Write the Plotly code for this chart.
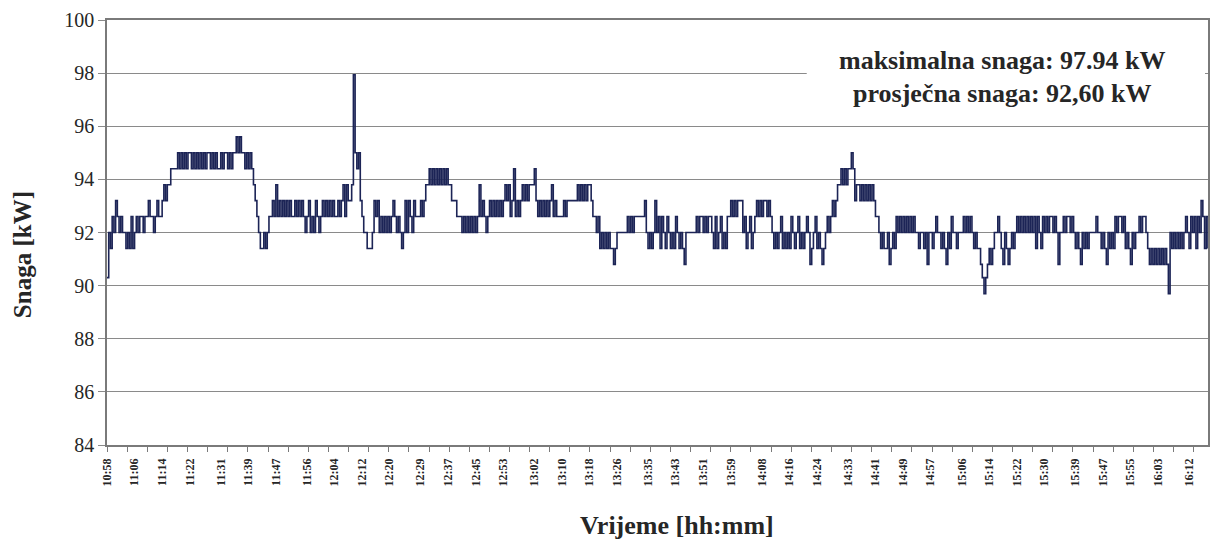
import numpy as np
import plotly.graph_objects as go

# Power readings [kW], one sample every 30 s starting at 10:58
power_1058_1148 = [
    90.3, 92.0, 91.4, 92.6, 92.0, 93.2, 92.6, 92.0, 92.6, 92.0, 92.0, 91.4, 92.0, 91.4, 92.6, 91.4, 92.0, 92.6, 92.0, 92.6,
    92.6, 92.0, 92.6, 92.6, 93.2, 92.6, 92.6, 92.0, 92.6, 93.2, 92.6, 92.6, 93.2, 93.8, 93.2, 93.8, 93.8, 94.4, 94.4, 94.4,
    94.4, 95.0, 94.4, 95.0, 94.4, 95.0, 94.4, 95.0, 95.0, 94.4, 95.0, 94.4, 95.0, 94.4, 95.0, 94.4, 95.0, 94.4, 95.0, 95.0,
    94.4, 95.0, 94.4, 95.0, 94.4, 94.4, 95.0, 94.4, 95.0, 95.0, 94.4, 95.0, 94.4, 95.0, 95.0, 95.6, 95.0, 95.6, 95.0, 95.0,
    94.4, 95.0, 94.4, 95.0, 94.4, 93.8, 93.2, 92.6, 92.0, 91.4, 91.4, 92.0, 91.4, 92.0, 92.6, 92.6, 93.2, 92.6, 93.8, 92.6,
]
power_1148_1238 = [
    93.2, 92.6, 93.2, 92.6, 93.2, 92.6, 93.2, 92.6, 92.6, 93.2, 92.6, 93.2, 92.6, 93.2, 92.6, 92.0, 92.6, 93.2, 92.0, 92.6,
    92.0, 93.2, 92.6, 92.0, 92.6, 93.2, 92.6, 93.2, 92.6, 93.2, 92.6, 93.2, 92.6, 92.6, 93.2, 92.6, 93.2, 93.8, 92.6, 93.8,
    93.2, 93.2, 93.8, 97.94, 95.0, 94.4, 95.0, 93.2, 92.6, 92.0, 92.0, 91.4, 91.4, 91.4, 92.0, 93.2, 92.6, 93.2, 92.0, 92.6,
    92.0, 92.6, 92.0, 92.6, 92.0, 92.6, 93.2, 92.6, 92.0, 92.6, 92.0, 91.4, 92.0, 93.2, 92.0, 93.2, 92.6, 92.0, 93.2, 92.6,
    92.6, 92.6, 93.2, 92.6, 93.2, 93.8, 93.8, 94.4, 93.8, 94.4, 93.8, 94.4, 93.8, 94.4, 93.8, 94.4, 93.8, 94.4, 93.8, 93.8,
]
power_1238_1328 = [
    93.2, 93.2, 93.2, 92.6, 92.6, 92.6, 92.0, 92.6, 92.0, 92.6, 92.0, 92.6, 92.0, 92.6, 92.0, 92.6, 93.8, 92.6, 93.2, 92.6,
    92.0, 92.6, 93.2, 92.6, 93.2, 92.6, 93.2, 92.6, 93.2, 92.6, 93.2, 93.8, 93.2, 93.8, 92.6, 93.2, 94.4, 92.6, 93.2, 92.6,
    93.2, 93.8, 93.2, 93.8, 93.2, 93.8, 93.8, 93.8, 94.4, 93.2, 92.6, 93.2, 92.6, 93.2, 92.6, 93.2, 92.6, 93.2, 93.8, 92.6,
    93.2, 92.6, 92.6, 92.6, 92.6, 93.2, 92.6, 93.2, 93.2, 93.2, 93.2, 93.2, 93.2, 93.8, 93.2, 93.8, 93.2, 93.8, 93.2, 93.8,
    93.8, 93.2, 92.6, 92.6, 92.0, 92.6, 91.4, 92.0, 91.4, 92.0, 91.4, 92.0, 91.4, 91.4, 90.8, 91.4, 92.0, 92.0, 92.0, 92.0,
]
power_1328_1418 = [
    92.0, 92.0, 92.6, 92.0, 92.6, 92.0, 92.6, 92.6, 92.6, 92.6, 92.6, 92.6, 93.2, 92.0, 91.4, 92.0, 91.4, 92.0, 93.2, 92.0,
    92.6, 91.4, 92.6, 92.0, 91.4, 92.6, 92.0, 91.4, 92.0, 91.4, 92.6, 92.0, 91.4, 92.0, 91.4, 90.8, 92.0, 92.0, 92.0, 92.0,
    92.0, 92.0, 92.6, 92.0, 92.6, 92.6, 92.0, 92.6, 92.0, 92.6, 92.6, 92.0, 91.4, 92.6, 91.4, 92.0, 92.6, 91.4, 92.0, 91.4,
    92.6, 92.6, 93.2, 92.6, 93.2, 92.6, 93.2, 93.2, 93.2, 92.0, 92.6, 91.4, 92.0, 92.6, 91.4, 92.0, 92.6, 93.2, 92.6, 93.2,
    92.6, 93.2, 93.2, 92.6, 93.2, 92.6, 92.0, 91.4, 92.0, 91.4, 92.0, 92.6, 91.4, 92.0, 91.4, 92.0, 91.4, 92.6, 92.0, 91.4,
]
power_1418_1508 = [
    92.0, 92.6, 91.4, 92.0, 91.4, 92.0, 92.6, 92.0, 90.8, 91.4, 92.0, 92.6, 91.4, 92.0, 91.4, 90.8, 91.4, 92.0, 92.6, 92.0,
    92.6, 93.2, 92.6, 93.2, 93.8, 93.8, 94.4, 93.8, 94.4, 93.8, 94.4, 94.4, 95.0, 94.4, 93.2, 93.8, 93.8, 93.2, 93.8, 93.2,
    93.8, 93.2, 93.8, 93.2, 93.8, 93.2, 92.6, 92.6, 92.0, 91.4, 92.0, 91.4, 91.4, 92.0, 90.8, 91.4, 92.0, 91.4, 92.6, 92.0,
    92.6, 92.0, 92.6, 92.0, 92.6, 92.0, 92.6, 92.0, 92.6, 92.0, 92.0, 91.4, 92.0, 92.0, 91.4, 92.0, 90.8, 92.0, 92.0, 91.4,
    92.0, 92.6, 92.0, 92.0, 91.4, 92.0, 91.4, 90.8, 92.0, 91.4, 92.6, 92.0, 92.0, 91.4, 92.0, 92.0, 92.0, 92.6, 92.0, 92.6,
]
power_1508_1618 = [
    92.0, 92.6, 92.0, 91.4, 92.0, 91.4, 91.4, 90.8, 90.3, 89.7, 90.3, 90.8, 91.4, 90.8, 91.4, 92.0, 92.0, 92.6, 92.0, 91.4,
    90.8, 92.0, 91.4, 90.8, 91.4, 92.0, 91.4, 92.0, 92.6, 92.0, 92.6, 92.0, 92.6, 92.0, 92.6, 92.0, 92.6, 92.0, 92.6, 91.4,
    92.6, 92.0, 91.4, 92.6, 92.0, 92.6, 92.0, 92.6, 92.6, 92.0, 92.6, 92.0, 90.8, 92.0, 92.0, 92.6, 92.0, 92.6, 92.6, 92.0,
    92.6, 92.0, 91.4, 92.0, 91.4, 90.8, 92.0, 91.4, 92.0, 91.4, 92.0, 92.0, 92.0, 92.0, 92.6, 92.0, 92.0, 91.4, 92.0, 91.4,
    90.8, 92.0, 91.4, 92.0, 91.4, 92.6, 92.0, 92.6, 92.6, 92.0, 92.6, 91.4, 92.0, 91.4, 90.8, 92.0, 91.4, 92.0, 92.0, 92.6,
    92.0, 92.6, 92.6, 92.0, 91.4, 90.8, 91.4, 90.8, 91.4, 90.8, 91.4, 90.8, 91.4, 90.8, 91.4, 90.8, 89.7, 92.0, 91.4, 92.0,
    91.4, 92.0, 91.4, 92.0, 91.4, 92.0, 92.6, 92.0, 91.4, 92.6, 92.0, 92.6, 91.4, 92.6, 92.0, 93.2, 92.6, 91.4, 92.6, 91.4,
]

tick_labels = [
    "10:58", "11:06", "11:14", "11:22", "11:31", "11:39", "11:47", "11:56", "12:04", "12:12",
    "12:20", "12:29", "12:37", "12:45", "12:53", "13:02", "13:10", "13:18", "13:26", "13:35",
    "13:43", "13:51", "13:59", "14:08", "14:16", "14:24", "14:33", "14:41", "14:49", "14:57",
    "15:06", "15:14", "15:22", "15:30", "15:39", "15:47", "15:55", "16:03", "16:12",
]
max_text = "maksimalna snaga: 97.94 kW"
avg_text = "prosječna snaga: 92,60 kW"

SAMPLE_MIN = 0.5
power = (power_1058_1148 + power_1148_1238 + power_1238_1328 +
         power_1328_1418 + power_1418_1508 + power_1508_1618)
x = np.arange(len(power)) * SAMPLE_MIN


def to_min(s):
    h, m = s.split(":")
    return int(h) * 60 + int(m)


t0 = to_min(tick_labels[0])
tick_vals = [to_min(s) - t0 for s in tick_labels]

SERIF = "Liberation Serif, Times New Roman, serif"
GRID = "#8a8a8a"

fig = go.Figure(go.Scatter(
    x=x, y=power, mode="lines",
    line=dict(color="#1c2456", width=1.6, shape="hv"),
    hoverinfo="x+y", showlegend=False,
))

L, R, T, B = 107, 4, 20, 103
W, H = 1214, 548
pw, ph = W - L - R, H - T - B

fig.update_layout(
    width=W, height=H,
    margin=dict(l=L, r=R, t=T, b=B),
    paper_bgcolor="white", plot_bgcolor="white",
    font=dict(family=SERIF, color="#262626"),
    xaxis=dict(
        range=[0, x[-1]], showgrid=False, zeroline=False,
        showline=True, linecolor="#7a7a7a", linewidth=1.5, mirror=True,
        tickmode="array", tickvals=tick_vals,
        ticktext=["<b>" + t + "</b>" for t in tick_labels],
        tickangle=-90, ticks="outside", ticklen=7, tickcolor="rgba(0,0,0,0)",
        tickfont=dict(family=SERIF, size=12, color="#262626"),
        minor=dict(ticks="outside", ticklen=5, tickwidth=1.2, tickcolor="#7a7a7a",
                   tick0=0, dtick=5.84, showgrid=False),
    ),
    yaxis=dict(
        range=[84, 100], dtick=2, tick0=84,
        showgrid=True, gridcolor=GRID, gridwidth=1.4, zeroline=False,
        showline=True, linecolor="#7a7a7a", linewidth=1.5, mirror=True,
        ticks="outside", ticklen=7, tickcolor=GRID, tickwidth=1.4,
        tickfont=dict(family=SERIF, size=20, color="#262626"),
    ),
    shapes=[dict(
        type="rect", xref="paper", yref="paper", layer="above",
        x0=(808 - L) / pw, x1=(1207 - L) / pw,
        y0=(H - B - 112) / ph, y1=(H - B - 38) / ph,
        fillcolor="white", line=dict(width=0),
    )],
    annotations=[
        dict(text="<b>" + max_text + "</b>", xref="paper", yref="paper",
             x=(1004 - L) / pw, y=(H - B - 60) / ph, showarrow=False,
             xanchor="center", yanchor="middle",
             font=dict(family=SERIF, size=26, color="#262626")),
        dict(text="<b>" + avg_text + "</b>", xref="paper", yref="paper",
             x=(1004 - L) / pw, y=(H - B - 94) / ph, showarrow=False,
             xanchor="center", yanchor="middle",
             font=dict(family=SERIF, size=26, color="#262626")),
        dict(text="<b>Snaga [kW]</b>", xref="paper", yref="paper",
             x=(22 - L) / pw, y=(H - B - 255) / ph, showarrow=False,
             textangle=-90, xanchor="center", yanchor="middle",
             font=dict(family=SERIF, size=25, color="#262626")),
        dict(text="<b>Vrijeme [hh:mm]</b>", xref="paper", yref="paper",
             x=(678 - L) / pw, y=(H - B - 525) / ph, showarrow=False,
             xanchor="center", yanchor="middle",
             font=dict(family=SERIF, size=26, color="#262626")),
    ],
)

fig.write_html("out.html")
